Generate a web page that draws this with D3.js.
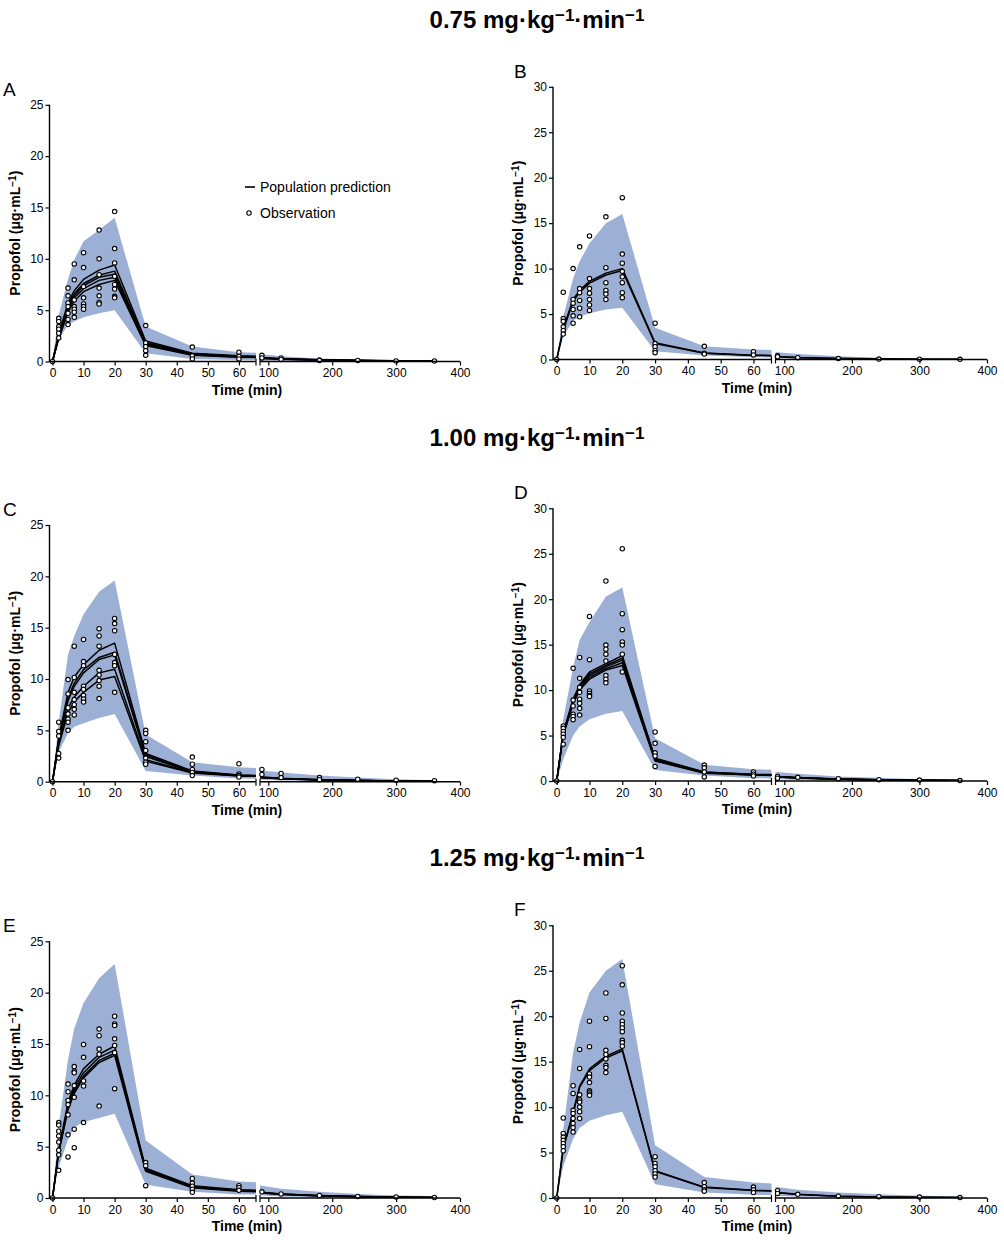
<!DOCTYPE html>
<html><head><meta charset="utf-8">
<script src="https://cdn.jsdelivr.net/npm/d3@7"></script>
<style>
body{margin:0;background:#fff}
svg text{font-family:"Liberation Sans",Arial,sans-serif;fill:#000}
</style></head><body>
<svg id="chart" width="1004" height="1240"></svg>
<script>
// ---------- data ----------
const times = [0,2,5,7,10,15,20,30,45,60,90,120,180,240,300,360];
const xTicksSeg1 = [0,10,20,30,40,50,60];
const xTicksSeg2 = [100,200,300,400];
const yTicks25 = [0,5,10,15,20,25];
const yTicks30 = [0,5,10,15,20,25,30];
const doses = ["0.75","1.00","1.25"];
const panelLetters = ["A","B","C","D","E","F"];
const legendLabels = ["Population prediction","Observation"];

// Panel A
const upperA = [0,4.5,8.0,9.9,11.7,12.8,14.0,3.4,1.45,0.9,0.7,0.5,0.3,0.2,0.12,0.08];
const lowerA = [0,2.1,3.6,3.9,4.3,4.7,5.0,0.8,0.25,0.15,0.1,0.07,0.04,0.02,0.01,0.01];
const predA = [
 [0,2.7,5.7,6.9,8.0,8.9,9.4,2.0,0.8,0.55,0.38,0.28,0.17,0.11,0.07,0.05],
 [0,2.5,5.4,6.6,7.6,8.4,8.8,1.85,0.75,0.5,0.35,0.26,0.16,0.1,0.07,0.05],
 [0,2.4,5.2,6.4,7.4,8.2,8.5,1.75,0.7,0.48,0.33,0.25,0.15,0.1,0.06,0.04],
 [0,2.3,5.0,6.2,7.1,7.9,8.2,1.65,0.65,0.45,0.32,0.24,0.14,0.09,0.06,0.04],
 [0,2.2,4.8,5.9,6.8,7.5,7.9,1.55,0.6,0.42,0.3,0.22,0.13,0.08,0.05,0.04]];
const obsA = [[0],[4.2,3.9,3.4,3.15,2.75,2.3],[7.15,6.4,5.7,5.35,4.7,4.1,3.6],[9.5,7.95,6.0,5.35,5.1,4.8,4.3],
 [10.6,9.15,7.3,6.2,5.6,5.35,5.1],[12.8,10.0,8.45,7.15,6.4,5.75,5.6],[14.6,11.0,9.6,8.3,7.5,7.05,6.35,6.2],
 [3.5,1.8,1.45,1.05,0.6],[1.4,0.55,0.25],[0.9,0.5,0.25],[0.6,0.35],[0.35,0.2],[0.15,0.1],[0.1],[0.05],[0.05]];

// Panel B
const upperB = [0,4.7,8.9,10.8,12.8,15.0,16.0,3.5,1.45,1.1,0.8,0.6,0.35,0.2,0.12,0.08];
const lowerB = [0,2.5,4.3,4.7,5.1,5.5,5.7,0.9,0.45,0.25,0.15,0.1,0.05,0.03,0.02,0.01];
const predB = [
 [0,3.4,6.6,7.6,8.6,9.5,10.0,1.85,0.72,0.47,0.32,0.22,0.12,0.07,0.04,0.03],
 [0,3.2,6.4,7.4,8.4,9.3,9.8,1.75,0.68,0.45,0.3,0.2,0.11,0.06,0.04,0.02]];
const obsB = [[0],[7.4,4.5,4.2,3.6,3.2,2.8],[10.0,6.6,6.2,5.5,4.8,4.0],[12.4,7.8,7.35,6.5,5.65,4.7],
 [13.6,8.9,7.8,7.3,6.6,6.0,5.4],[15.7,10.1,8.45,7.6,7.2,6.6],[17.8,11.6,10.6,9.7,9.1,8.45,7.35,6.8],
 [4.0,1.75,1.4,1.0,0.75],[1.45,0.7,0.6],[0.85,0.5],[0.4,0.3],[0.2],[0.1],[0.05],[0.03],[0.02]];

// Panel C
const upperC = [0,5.8,12.4,14.2,16.3,18.5,19.6,4.6,1.9,1.4,1.1,0.9,0.6,0.4,0.25,0.15];
const lowerC = [0,2.9,4.75,5.35,5.7,6.2,6.6,1.05,0.6,0.3,0.2,0.12,0.07,0.04,0.02,0.01];
const predC = [
 [0,4.3,8.7,10.2,11.4,12.8,13.5,2.75,1.05,0.65,0.45,0.33,0.2,0.13,0.08,0.05],
 [0,4.1,8.2,9.6,10.9,12.1,12.6,2.6,1.0,0.62,0.43,0.32,0.19,0.12,0.08,0.05],
 [0,4.0,7.9,9.3,10.6,11.9,12.35,2.45,0.95,0.6,0.42,0.3,0.18,0.12,0.07,0.05],
 [0,3.7,7.2,8.25,9.3,10.6,10.95,2.15,0.9,0.57,0.4,0.29,0.17,0.11,0.07,0.04],
 [0,3.5,6.7,7.8,8.7,9.9,10.25,2.0,0.85,0.55,0.38,0.28,0.16,0.1,0.06,0.04]];
const obsC = [[0],[5.8,4.9,4.45,2.75,2.3],[9.95,8.55,7.2,6.6,6.1,5.8,5.0],[13.2,10.15,8.7,8.0,7.5,7.05,6.5],
 [13.85,11.7,11.3,9.3,9.0,8.4,8.05,7.75],[14.9,14.2,13.2,10.85,10.4,9.85,9.3,8.1],[15.9,15.4,14.7,12.4,11.6,11.3,8.7],
 [5.0,4.7,3.9,3.05,2.3,1.9,1.7],[2.4,1.7,1.2,0.9,0.6],[1.75,0.75,0.6,0.45],[1.2,0.7],[0.8,0.4],[0.4,0.2],[0.25],[0.15],[0.1]];

// Panel D
const upperD = [0,6.8,12.5,15.5,17.5,20.3,21.3,4.7,1.8,1.3,1.0,0.8,0.5,0.35,0.2,0.15];
const lowerD = [0,2.4,5.0,6.0,6.8,7.4,7.7,1.2,0.6,0.3,0.2,0.12,0.07,0.04,0.02,0.01];
const predD = [
 [0,5.3,9.0,10.6,12.0,12.9,13.8,2.5,1.0,0.75,0.5,0.38,0.22,0.14,0.09,0.06],
 [0,5.2,8.9,10.45,11.8,12.7,13.5,2.45,0.97,0.72,0.48,0.36,0.21,0.13,0.08,0.05],
 [0,5.15,8.75,10.3,11.6,12.55,13.3,2.4,0.93,0.7,0.46,0.35,0.2,0.13,0.08,0.05],
 [0,5.1,8.6,10.15,11.4,12.35,13.0,2.3,0.9,0.67,0.45,0.33,0.19,0.12,0.07,0.05],
 [0,5.0,8.5,10.0,11.2,12.2,12.7,2.2,0.85,0.65,0.43,0.32,0.18,0.12,0.07,0.04]];
const obsD = [[0],[6.05,5.8,5.45,5.15,4.8,4.05],[12.4,8.9,8.25,7.35,7.1,6.75],[13.6,11.3,10.3,9.75,9.0,8.55,8.0,7.25],
 [18.1,13.35,9.9,9.65,9.4,9.3],[22.0,14.95,14.5,13.95,13.2,11.6,11.2,10.8],[25.55,18.4,16.65,15.3,14.95,13.95,12.0],
 [5.4,4.15,3.1,2.75,1.6],[1.75,1.45,1.0,0.45],[1.0,0.75,0.55],[0.5,0.3],[0.4],[0.25],[0.15],[0.1],[0.05]];

// Panel E
const upperE = [0,7.0,13.5,16.5,19.0,21.4,22.8,5.6,2.3,1.6,1.2,0.9,0.6,0.4,0.25,0.2];
const lowerE = [0,3.0,5.7,6.9,7.4,7.8,8.2,1.3,0.6,0.35,0.25,0.15,0.1,0.05,0.03,0.02];
const predE = [
 [0,4.7,9.3,11.0,12.6,14.0,14.8,2.9,1.2,0.8,0.55,0.4,0.25,0.15,0.1,0.06],
 [0,4.6,9.0,10.7,12.2,13.7,14.4,2.8,1.1,0.75,0.52,0.38,0.23,0.14,0.09,0.06],
 [0,4.5,8.8,10.4,11.9,13.4,14.1,2.7,1.05,0.7,0.5,0.36,0.22,0.13,0.08,0.05],
 [0,4.4,8.6,10.2,11.7,13.2,13.9,2.6,1.0,0.65,0.48,0.34,0.2,0.12,0.08,0.05]];
const obsE = [[0],[7.35,7.1,6.5,6.05,5.45,4.65,4.2,2.7],[11.1,10.35,9.5,9.1,8.1,6.15,4.0],[12.8,12.35,12.2,10.95,9.8,6.7,4.9],
 [14.95,13.7,11.4,10.9,7.35],[16.45,15.8,14.5,14.0,8.95],[17.7,16.95,16.8,15.5,14.85,14.15,10.65],
 [3.45,3.15,1.2],[1.9,1.45,1.15,0.85,0.55],[1.2,1.0,0.75],[0.6],[0.4],[0.25],[0.15],[0.1],[0.05]];

// Panel F
const upperF = [0,7.5,16.0,19.3,22.6,25.0,26.3,5.8,2.3,1.7,1.2,0.9,0.6,0.4,0.25,0.2];
const lowerF = [0,3.5,6.5,7.7,8.5,9.1,9.5,1.5,0.6,0.35,0.25,0.15,0.1,0.05,0.03,0.02];
const predF = [
 [0,5.5,9.4,12.3,14.2,15.6,16.4,3.0,1.2,0.85,0.6,0.4,0.2,0.12,0.08,0.05],
 [0,5.4,9.3,12.2,14.0,15.4,16.2,2.95,1.15,0.82,0.58,0.38,0.19,0.11,0.07,0.05]];
const obsF = [[0],[8.8,7.1,6.7,6.35,6.0,5.65,5.2],[12.35,11.5,9.65,9.3,8.75,8.2,7.75,7.25],[16.35,14.25,11.35,10.8,10.55,10.0,9.5,8.75],
 [19.45,16.65,13.65,13.3,12.7,11.8,11.65,11.45,11.3],[22.55,19.75,16.25,15.8,15.3,14.6,14.35,13.8],
 [25.55,23.45,20.35,19.45,19.1,18.7,18.3,17.35,17.1,16.7],
 [4.55,3.8,3.45,3.0,2.65,2.3],[1.7,1.25,0.9,0.75],[1.2,0.9,0.6],[0.8,0.5],[0.4],[0.2],[0.15],[0.1],[0.05]];

// ---------- layout ----------
const BAND = "#9cafd5";
const cols = [
 {axisX:49.5, x0:52.5, s1End:256, s2Start:260, s2End:460, h:256.7, y0:[361.5,781.7,1198], ylabX:20, letterX:3, timeX:247, yTicks:yTicks25, ymax:25},
 {axisX:553, x0:556.7, s1End:771.5, s2Start:775.5, s2End:987, h:272.7, y0:[359.5,781,1198], ylabX:523, letterX:514, timeX:757, yTicks:yTicks30, ymax:30}
];
const titleY = [28, 446, 866];
const panelData = [
 {upper:upperA, lower:lowerA, preds:predA, obs:obsA},
 {upper:upperB, lower:lowerB, preds:predB, obs:obsB},
 {upper:upperC, lower:lowerC, preds:predC, obs:obsC},
 {upper:upperD, lower:lowerD, preds:predD, obs:obsD},
 {upper:upperE, lower:lowerE, preds:predE, obs:obsE},
 {upper:upperF, lower:lowerF, preds:predF, obs:obsF}
];

const svg = d3.select("#chart");
const defs = svg.append("defs");

// Row titles
doses.forEach((d,i)=>{
  const t = svg.append("text").attr("x",537).attr("y",titleY[i]).attr("text-anchor","middle")
    .style("font-size","24px").style("font-weight","bold");
  t.append("tspan").text(d+" mg\u00B7kg");
  t.append("tspan").attr("baseline-shift","40%").style("font-size","17px").text("\u22121");
  t.append("tspan").text("\u00B7min");
  t.append("tspan").attr("baseline-shift","40%").style("font-size","17px").text("\u22121");
});

panelData.forEach((pd,i)=>{
  const col = cols[i%2], row = Math.floor(i/2);
  const y0 = col.y0[row];
  const y = d3.scaleLinear().domain([0,col.ymax]).range([y0, y0-col.h]);
  const xs1 = d3.scaleLinear().domain([0,65.5]).range([col.x0, col.s1End]);
  const xs2 = d3.scaleLinear().domain([87,400]).range([col.s2Start, col.s2End]);
  const g = svg.append("g");

  // clip paths
  const c1 = "clip1_"+i, c2 = "clip2_"+i;
  defs.append("clipPath").attr("id",c1).append("rect")
    .attr("x",col.x0-4).attr("y",y0-col.h-20).attr("width",col.s1End-col.x0+4).attr("height",col.h+20);
  defs.append("clipPath").attr("id",c2).append("rect")
    .attr("x",col.s2Start).attr("y",y0-col.h-20).attr("width",col.s2End-col.s2Start).attr("height",col.h+20);

  const pts = times.map((t,k)=>({t, lo:pd.lower[k], hi:pd.upper[k]}));
  [[xs1,c1],[xs2,c2]].forEach(([xs,cid])=>{
    const area = d3.area().x(d=>xs(d.t)).y0(d=>y(d.lo)).y1(d=>y(d.hi));
    const gg = g.append("g").attr("clip-path",`url(#${cid})`);
    gg.append("path").datum(pts).attr("d",area).attr("fill",BAND);
    const line = d3.line().x(d=>xs(d[0])).y(d=>y(d[1]));
    pd.preds.forEach(p=>{
      gg.append("path").datum(times.map((t,k)=>[t,p[k]])).attr("d",line)
        .attr("fill","none").attr("stroke","#000").attr("stroke-width",1.5).attr("stroke-linejoin","round");
    });
  });

  // observations
  const obsPts = [];
  pd.obs.forEach((vals,k)=>vals.forEach(v=>obsPts.push({t:times[k], v})));
  g.append("g").selectAll("circle").data(obsPts).join("circle")
    .attr("cx",d=> d.t<=65.5 ? xs1(d.t) : xs2(d.t))
    .attr("cy",d=>y(d.v)).attr("r",2.2)
    .attr("fill","#fff").attr("stroke","#000").attr("stroke-width",1.1);

  // axes
  const yAx = g.append("g").attr("transform",`translate(${col.axisX},0)`)
    .call(d3.axisLeft(y).tickValues(col.yTicks).tickSize(4).tickSizeOuter(0).tickPadding(2));
  const xAx1 = g.append("g").attr("transform",`translate(0,${y0})`)
    .call(d3.axisBottom(xs1).tickValues(xTicksSeg1).tickSize(4).tickSizeOuter(0).tickPadding(3));
  const xAx2 = g.append("g").attr("transform",`translate(0,${y0})`)
    .call(d3.axisBottom(xs2).tickValues(xTicksSeg2).tickSize(4).tickSizeOuter(0).tickPadding(3));
  [yAx,xAx1,xAx2].forEach(a=>{
    a.select(".domain").remove();
    a.selectAll(".tick line").attr("stroke","#000").attr("stroke-width",1.2);
    a.selectAll(".tick text").style("font-size","12px").attr("fill","#000").style("font-family",'"Liberation Sans",Arial,sans-serif');
  });
  // axis lines
  g.append("line").attr("x1",col.axisX).attr("x2",col.axisX).attr("y1",y0+0.6).attr("y2",y0-col.h)
    .attr("stroke","#000").attr("stroke-width",1.4);
  g.append("line").attr("x1",col.axisX).attr("x2",col.s1End).attr("y1",y0).attr("y2",y0)
    .attr("stroke","#000").attr("stroke-width",1.4);
  g.append("line").attr("x1",col.s2Start).attr("x2",col.s2End).attr("y1",y0).attr("y2",y0)
    .attr("stroke","#000").attr("stroke-width",1.4);
  // break marks
  [col.s1End, col.s2Start].forEach(bx=>{
    g.append("line").attr("x1",bx).attr("x2",bx).attr("y1",y0-3).attr("y2",y0+4)
      .attr("stroke","#000").attr("stroke-width",1.2);
  });

  // titles
  g.append("text").attr("x",col.timeX).attr("y",y0+33).attr("text-anchor","middle")
    .style("font-size","14px").style("font-weight","bold").text("Time (min)");
  const yl = g.append("text").attr("transform",`translate(${col.ylabX},${y0-col.h/2}) rotate(-90)`)
    .attr("text-anchor","middle").style("font-size","14px").style("font-weight","bold");
  yl.append("tspan").text("Propofol (\u03BCg\u00B7mL");
  yl.append("tspan").attr("baseline-shift","40%").style("font-size","10px").text("\u22121");
  yl.append("tspan").text(")");
  g.append("text").attr("x",col.letterX).attr("y",y0-col.h-9).style("font-size","19px").text(panelLetters[i]);

  if(i===0){
    g.append("line").attr("x1",245).attr("x2",255).attr("y1",187).attr("y2",187)
      .attr("stroke","#000").attr("stroke-width",1.6);
    g.append("text").attr("x",260).attr("y",192).style("font-size","14px").text(legendLabels[0]);
    g.append("circle").attr("cx",249).attr("cy",213).attr("r",2.2).attr("fill","#fff").attr("stroke","#000").attr("stroke-width",1.1);
    g.append("text").attr("x",260).attr("y",218).style("font-size","14px").text(legendLabels[1]);
  }
});
</script>
</body></html>
